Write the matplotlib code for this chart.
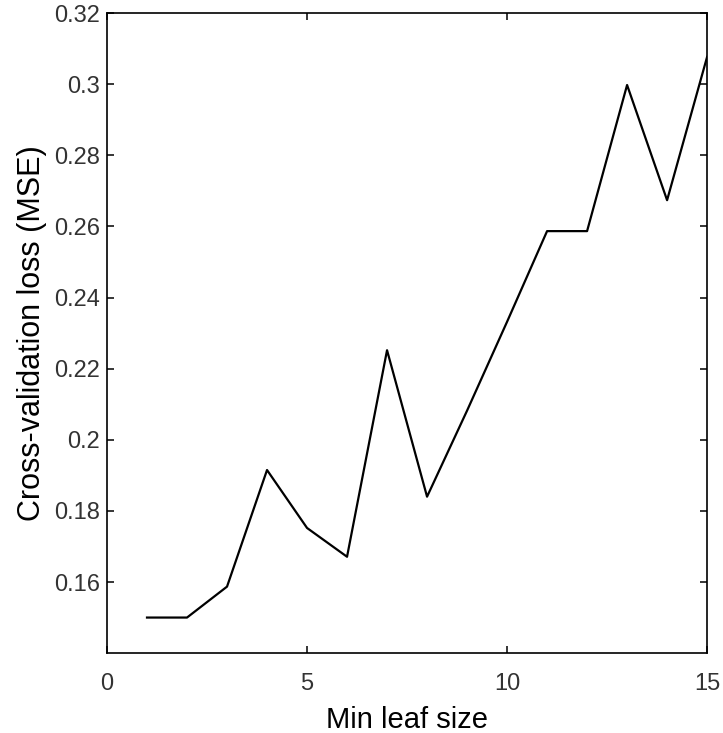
import numpy as np
import matplotlib
matplotlib.use('Agg')
import matplotlib.pyplot as plt

# min leaf size vs cross-validated MSE
leaf = [1, 2, 3, 4, 5, 6, 7, 8, 9, 10, 11, 12, 13, 14, 15]
mse = [0.150, 0.150, 0.1587, 0.1915, 0.1752, 0.1671, 0.2252, 0.1840,
       0.2082, 0.2332, 0.2587, 0.2587, 0.2998, 0.2674, 0.3077]

xticks = [0, 5, 10, 15]
yticks = [0.16, 0.18, 0.2, 0.22, 0.24, 0.26, 0.28, 0.3, 0.32]
ytick_labels = ['0.16', '0.18', '0.2', '0.22', '0.24', '0.26', '0.28', '0.3', '0.32']

plt.rcParams['font.family'] = ['Liberation Sans', 'DejaVu Sans']

fig = plt.figure(figsize=[7.23, 7.33], dpi=100)
ax = fig.add_axes([0.148, 0.109, 0.83, 0.873])

ax.plot(leaf, mse, color='black', linewidth=1.6)

ax.set_xlim(0, 15)
ax.set_ylim(0.14, 0.32)
ax.set_xticks(xticks)
ax.set_yticks(yticks)
ax.set_yticklabels(ytick_labels)

ax.tick_params(axis='both', direction='in', length=5, width=1.1,
               top=True, right=True, labelsize=17, labelcolor='#333333')
ax.tick_params(axis='x', pad=14)
ax.tick_params(axis='y', pad=5)
for s in ax.spines.values():
    s.set_linewidth(1.2)

ax.set_xlabel('Min leaf size', fontsize=21, labelpad=8)
ax.set_ylabel('Cross-validation loss (MSE)', fontsize=22, labelpad=5)

fig.savefig('out.png', dpi=100)
